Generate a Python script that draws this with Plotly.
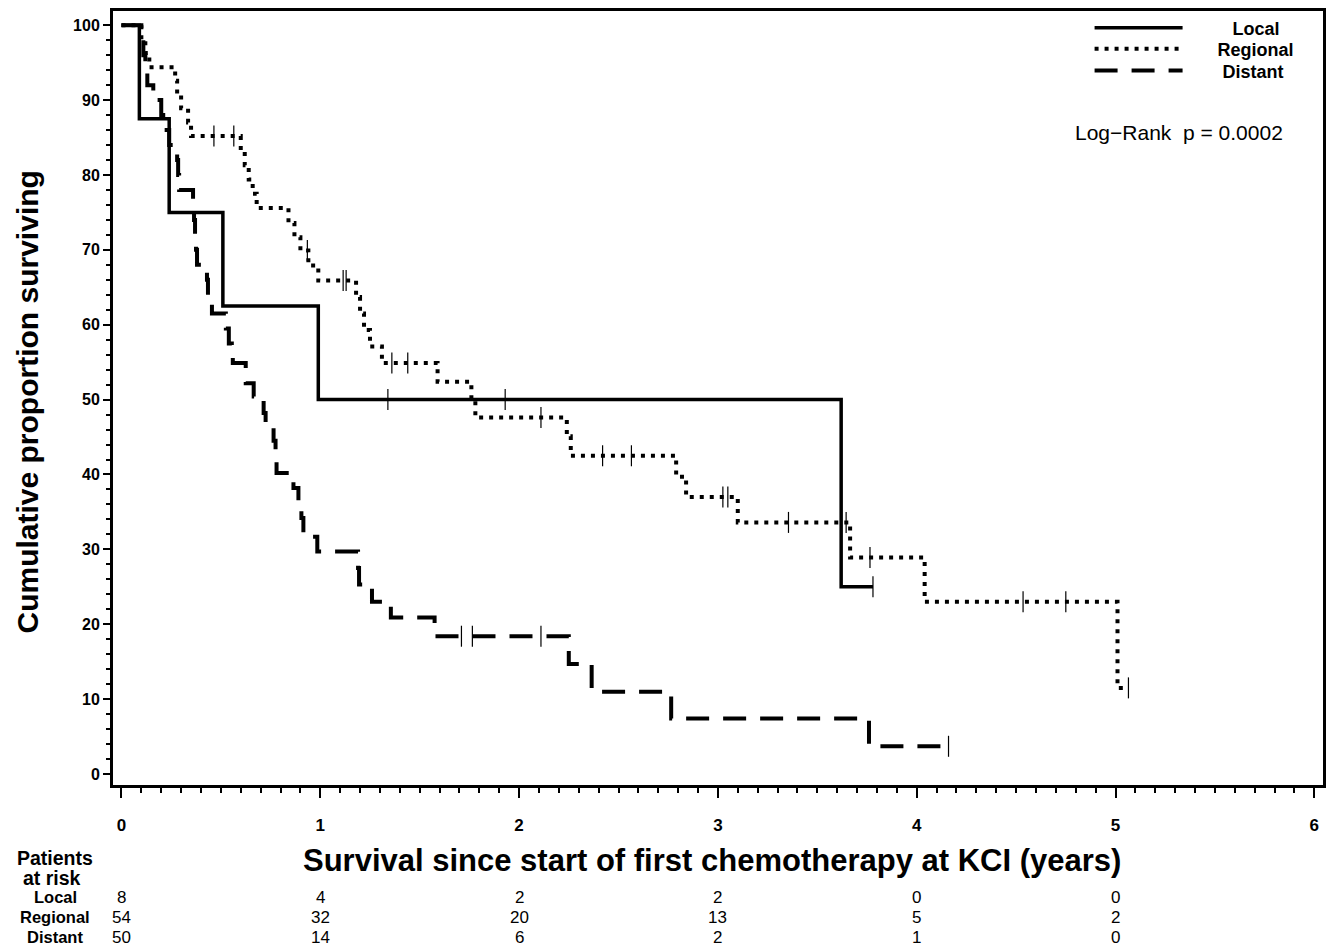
import plotly.graph_objects as go

# ---------------- data ----------------
groups = ["Local", "Regional", "Distant"]

local_t = [0, 0.09, 0.24, 0.51, 0.99, 3.62, 3.78]
local_s = [100, 87.5, 75.0, 62.5, 50.0, 25.0, 25.0]
local_cens = [1.34, 1.93, 3.78]

regional_t = [0, 0.10, 0.12, 0.14, 0.27, 0.28, 0.30, 0.335, 0.35, 0.60, 0.62, 0.64,
              0.66, 0.68, 0.84, 0.87, 0.90, 0.94, 0.99, 1.18, 1.20, 1.22, 1.25, 1.31,
              1.59, 1.76, 1.78, 2.24, 2.26, 2.79, 2.84, 3.10, 3.665, 4.04, 5.01, 5.065]
regional_s = [100, 98.1, 96.3, 94.4, 92.6, 90.7, 88.9, 87.0, 85.2, 83.3, 81.3, 79.4,
              77.5, 75.6, 73.6, 71.7, 69.9, 67.9, 65.9, 63.7, 61.5, 59.3, 57.1, 54.9,
              52.4, 50.0, 47.6, 45.1, 42.5, 39.7, 37.0, 33.6, 28.9, 23.0, 11.5, 11.5]
regional_cens = [0.465, 0.565, 0.935, 1.115, 1.13, 1.36, 1.44, 2.11, 2.42, 2.565,
                 3.025, 3.05, 3.355, 3.645, 3.765, 4.535, 4.75, 5.065]

distant_t = [0, 0.10, 0.11, 0.12, 0.13, 0.16, 0.20, 0.21, 0.24, 0.28, 0.285, 0.29,
             0.36, 0.365, 0.37, 0.375, 0.38, 0.43, 0.435, 0.455, 0.525, 0.54, 0.555,
             0.56, 0.625, 0.665, 0.715, 0.725, 0.765, 0.775, 0.78, 0.865, 0.89, 0.905,
             0.915, 0.985, 1.19, 1.195, 1.26, 1.355, 1.575, 2.25, 2.365, 2.765, 3.76, 4.16]
distant_s = [100, 98, 96, 94, 92, 90, 88, 86, 84, 82, 80, 78,
             76, 74, 72, 70, 68, 66, 64, 61.5, 59.5, 57.5, 55.8,
             54.9, 52.2, 50.4, 48.2, 46.3, 44.5, 42.5, 40.2, 38.2, 36.2, 34.2,
             31.7, 29.7, 27.5, 25.3, 23.0, 20.9, 18.4, 14.7, 11.0, 7.4, 3.7, 3.7]
distant_cens = [1.71, 1.765, 2.11, 4.16]

risk_times = [0, 1, 2, 3, 4, 5]
risk_local = [8, 4, 2, 2, 0, 0]
risk_regional = [54, 32, 20, 13, 5, 2]
risk_distant = [50, 14, 6, 2, 1, 0]

x_ticks = [0, 1, 2, 3, 4, 5, 6]
y_ticks = [0, 10, 20, 30, 40, 50, 60, 70, 80, 90, 100]

x_title = "Survival since start of first chemotherapy at KCI (years)"
y_title = "Cumulative proportion surviving"
logrank_text = "Log\u2212Rank  p = 0.0002"


def surv_at(ts, ss, t):
    val = ss[0]
    for ti, si in zip(ts, ss):
        if ti <= t:
            val = si
    return val


# ---------------- layout geometry (pixels) ----------------
W, H = 1334, 949
ML, MR, MT, MB = 113, 8, 10, 164
PW, PH = W - ML - MR, H - MT - MB
AX_BOTTOM = H - MB
X0_PX, PX_PER_YEAR = 121.5, 199.3

FONT = "Liberation Sans, Arial, Helvetica, sans-serif"

styles = {
    "Local": dict(width=3.5, dash="solid"),
    "Regional": dict(width=4, dash="4px,6px"),
    "Distant": dict(width=4, dash="23px,14px"),
}
series = {
    "Local": (local_t, local_s, local_cens),
    "Regional": (regional_t, regional_s, regional_cens),
    "Distant": (distant_t, distant_s, distant_cens),
}
# legend: one legend box per entry so each row sits where the reference puts it
legend_ids = {"Local": "legend", "Regional": "legend2", "Distant": "legend3"}
legend_row_py = {"Local": 27, "Regional": 48, "Distant": 70}
legend_pad = {"Local": 9, "Regional": 6, "Distant": 7}

fig = go.Figure()
for g in groups:
    ts, ss, cs = series[g]
    fig.add_trace(go.Scatter(
        x=ts, y=ss, mode="lines", name="\u00a0" * legend_pad[g] + g,
        legend=legend_ids[g],
        line=dict(shape="hv", color="black", **styles[g]),
    ))
for g in groups:
    ts, ss, cs = series[g]
    fig.add_trace(go.Scatter(
        x=cs, y=[surv_at(ts, ss, c) for c in cs], mode="markers",
        showlegend=False, hoverinfo="skip",
        marker=dict(symbol="line-ns", size=15, color="black",
                    line=dict(width=1.2, color="black")),
    ))

annotations = []


def yshift_for(py):
    return AX_BOTTOM - py


# at-risk table
annotations.append(dict(text="<b>Patients</b>", xref="paper", yref="paper", x=0, y=0,
                        xshift=55 - ML, yshift=yshift_for(858), showarrow=False,
                        xanchor="center", yanchor="middle",
                        font=dict(family=FONT, size=19.5, color="black")))
annotations.append(dict(text="<b>at risk</b>", xref="paper", yref="paper", x=0, y=0,
                        xshift=52 - ML, yshift=yshift_for(878), showarrow=False,
                        xanchor="center", yanchor="middle",
                        font=dict(family=FONT, size=19.5, color="black")))
rows = [("Local", risk_local, 897), ("Regional", risk_regional, 917),
        ("Distant", risk_distant, 937)]
for name, vals, py in rows:
    annotations.append(dict(text=name, xref="paper", yref="paper", x=0, y=0,
                            xshift=55 - ML, yshift=yshift_for(py), showarrow=False,
                            xanchor="center", yanchor="middle",
                            font=dict(family=FONT, size=16.5, color="black", weight="bold")))
    for t, v in zip(risk_times, vals):
        annotations.append(dict(text=str(v), xref="x", yref="paper", x=t, y=0,
                                yshift=yshift_for(py), showarrow=False,
                                xanchor="center", yanchor="middle",
                                font=dict(family=FONT, size=17, color="black")))

# axis titles
annotations.append(dict(text="<b>" + x_title + "</b>", xref="paper", yref="paper",
                        x=(713 - ML) / PW, y=0, yshift=yshift_for(860),
                        showarrow=False, xanchor="center", yanchor="middle",
                        font=dict(family=FONT, size=31, color="black")))
annotations.append(dict(text="<b>" + y_title + "</b>", xref="paper", yref="paper",
                        x=0, xshift=27 - ML, y=(AX_BOTTOM - 402) / PH,
                        showarrow=False, xanchor="center", yanchor="middle",
                        textangle=-90,
                        font=dict(family=FONT, size=30, color="black")))
# log-rank text
annotations.append(dict(text=logrank_text, xref="paper", yref="paper",
                        x=(1288 - ML) / PW, y=(AX_BOTTOM - 132) / PH,
                        showarrow=False, xanchor="right", yanchor="middle",
                        font=dict(family=FONT, size=21, color="black")))

axis_common = dict(
    showline=True, linewidth=3, linecolor="black", mirror=True,
    showgrid=False, zeroline=False, ticks="outside", tickcolor="black",
)


def legend_box(g):
    return dict(
        x=(1092 - ML) / PW, y=(AX_BOTTOM - legend_row_py[g]) / PH,
        xanchor="left", yanchor="middle",
        bgcolor="rgba(0,0,0,0)", borderwidth=0, itemwidth=88,
        tracegroupgap=0, itemclick=False, itemdoubleclick=False,
        font=dict(family=FONT, size=18, color="black", weight="bold"),
    )


fig.update_layout(
    width=W, height=H,
    margin=dict(l=ML, r=MR, t=MT, b=MB, pad=0),
    paper_bgcolor="white", plot_bgcolor="white",
    font=dict(family=FONT, color="black"),
    showlegend=True,
    legend=legend_box("Local"),
    legend2=legend_box("Regional"),
    legend3=legend_box("Distant"),
    xaxis=dict(
        range=[(ML - X0_PX) / PX_PER_YEAR, (W - MR - X0_PX) / PX_PER_YEAR],
        tickvals=x_ticks, ticklen=10, tickwidth=2,
        ticklabelstandoff=13,
        tickfont=dict(family=FONT, size=17, color="black", weight="bold"),
        minor=dict(dtick=0.1, tick0=0, ticks="outside", ticklen=5, tickwidth=1.5,
                   tickcolor="black", showgrid=False),
        **axis_common,
    ),
    yaxis=dict(
        range=[-1.47, 101.9],
        tickvals=y_ticks, ticklen=7, tickwidth=2,
        ticklabelstandoff=0,
        tickfont=dict(family=FONT, size=16, color="black", weight="bold"),
        minor=dict(dtick=2, tick0=0, ticks="outside", ticklen=4, tickwidth=1.5,
                   tickcolor="black", showgrid=False),
        **axis_common,
    ),
    annotations=annotations,
)

fig.write_html("out.html", config={"displayModeBar": False},
               post_script="document.body.style.margin='0';document.body.style.overflow='hidden';")
